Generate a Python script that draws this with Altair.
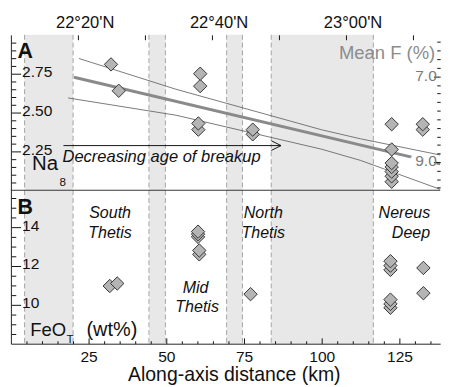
import altair as alt
import pandas as pd

FONT = "Liberation Sans"
W = 442
HA = 160
HB = 158
H = HA + HB

KM_DOMAIN = [0, 138.1]
NA_DOMAIN = [2.0, 3.0]
FE_DOMAIN = [8.0, 15.9]
F_DOMAIN = [6.033, 9.657]
LAT_DOMAIN = [1330, 1394.1]  # minutes of latitude, 22°10'N .. 23°14'N

# grey bands (along-axis km)
band_start = [4.4, 44.4, 69.4, 83.75]
band_end = [20.0, 49.7, 74.5, 116.6]

# Panel A: Na8
na_km = [32.2, 34.7, 60.9, 60.9, 60.3, 60.3, 77.8, 77.8,
         122.5, 122.5, 122.5, 122.5, 122.5, 122.5, 122.5, 132.5, 132.5]
na_val = [2.81, 2.64, 2.67, 2.75, 2.39, 2.43, 2.36, 2.39,
          2.055, 2.09, 2.12, 2.15, 2.175, 2.2625, 2.425, 2.39, 2.425]

# regression and confidence curves
reg_km = [20.3, 138.1]
reg_na = [2.727, 2.17]
upper_km = [21.9, 53.1, 100.0, 112.5, 138.1]
upper_na = [2.848, 2.65, 2.389, 2.331, 2.227]
lower_km = [18.4, 53.1, 100.0, 112.5, 138.1]
lower_na = [2.594, 2.483, 2.264, 2.192, 2.006]

# Panel B: FeOT
fe_km = [31.8, 34.2, 60.6, 60.6, 60.2, 60.2, 60.2, 77.1,
         122.1, 122.1, 122.1, 122.1, 122.1, 122.1, 132.7, 132.7]
fe_val = [10.97, 11.1, 12.6, 12.8, 13.5, 13.64, 13.77, 10.55,
          9.85, 10.05, 10.27, 11.8, 12.02, 12.25, 10.6, 11.9]

# ticks
na_major = [2.25, 2.5, 2.75]
na_minor = [2.05, 2.1, 2.15, 2.2, 2.3, 2.35, 2.4, 2.45, 2.55, 2.6, 2.65, 2.7, 2.8, 2.85, 2.9, 2.95]
fe_major = [10, 12, 14]
fe_minor = [8.5, 9, 9.5, 10.5, 11, 11.5, 12.5, 13, 13.5, 14.5, 15, 15.5]
km_major = [25, 50, 75, 100, 125]
km_minor = [5, 10, 15, 20, 30, 35, 40, 45, 55, 60, 65, 70, 80, 85, 90, 95,
            105, 110, 115, 120, 130, 135]
f_major = [7.0, 9.0]
f_minor = [6.2, 6.4, 6.6, 6.8, 7.2, 7.4, 7.6, 7.8, 8.0, 8.2, 8.4, 8.6, 8.8, 9.2, 9.4, 9.6]
lat_ticks = [1340, 1350, 1360, 1370, 1380, 1390]

# annotations
region_text = ["South", "Thetis", "Mid", "Thetis", "North", "Thetis", "Nereus", "Deep"]
region_km = [31.9, 31.9, 59.4, 59.9, 81.2, 81.2, 126.6, 128.7]
region_fe = [14.465, 13.435, 10.635, 9.635, 14.465, 13.435, 14.465, 13.435]

LAT_EXPR = """datum.value % 20 == 0 ? floor(datum.value / 60) + '°' + (datum.value % 60 < 10 ? '0' : '') + (datum.value % 60) + "'N" : ''"""


def X(field, axis=None):
    return alt.X(f"{field}:Q", scale=alt.Scale(domain=KM_DOMAIN, nice=False, zero=False), axis=axis)


def YA(field, axis=None):
    return alt.Y(f"{field}:Q", scale=alt.Scale(domain=NA_DOMAIN, range=[HA, 0], nice=False, zero=False),
                 axis=axis)


def YB(field, axis=None):
    return alt.Y(f"{field}:Q", scale=alt.Scale(domain=FE_DOMAIN, range=[H, HA], nice=False, zero=False),
                 axis=axis)


def text_at(t, km, y, yfun, **mark):
    mark.setdefault("color", "#111111")
    df = pd.DataFrame({"t": [t], "km": [km], "y": [y]})
    return alt.Chart(df).mark_text(font=FONT, **mark).encode(
        x=X("km"), y=yfun("y"), text="t:N")


bands_df = pd.DataFrame({"start": band_start, "end": band_end})
edges_df = pd.DataFrame({"edge": band_start + band_end})

band_rect = alt.Chart(bands_df).mark_rect(color="#e8e8e8").encode(x=X("start"), x2="end:Q")
band_edge = alt.Chart(edges_df).mark_rule(color="#a3a3a3", strokeDash=[5, 3], strokeWidth=1).encode(
    x=X("edge"))


def axis_y(values, yfun, axis):
    return alt.Chart(pd.DataFrame({"v": values})).mark_point(opacity=0).encode(y=yfun("v", axis))


def axis_x(values, axis):
    return alt.Chart(pd.DataFrame({"v": values})).mark_point(opacity=0).encode(x=X("v", axis))


common_lab = dict(labelFont=FONT, labelFontSize=16, labelColor="#111111", tickColor="#111111",
                  labelOverlap=False, grid=False, zindex=2)


def left_major(values, fmt):
    return alt.Axis(orient="left", values=values, offset=-10, tickSize=10, domain=False,
                    labelAlign="left", labelBaseline="middle", labelPadding=-11, labelOffset=-2,
                    format=fmt, title=None, **common_lab)


def left_minor(values):
    return alt.Axis(orient="left", values=values, offset=-5, tickSize=5, domain=False, labels=False,
                    title=None, tickColor="#111111", grid=False, zindex=2)


def left_domain():
    return alt.Axis(orient="left", values=[], domain=True, ticks=False, labels=False, title=None,
                    domainColor="#222222", domainWidth=1, grid=False, zindex=3)


# ---------------- Panel A ----------------
na_df = pd.DataFrame({"km": na_km, "na": na_val})
up_df = pd.DataFrame({"km": upper_km, "na": upper_na})
lo_df = pd.DataFrame({"km": lower_km, "na": lower_na})
reg_df = pd.DataFrame({"km": reg_km, "na": reg_na})
arrow_df = pd.DataFrame({"km": [16.9], "km2": [86.9], "na": [2.2875]})
divider_df = pd.DataFrame({"na": [NA_DOMAIN[0]]})

up_line = alt.Chart(up_df).mark_line(color="#555555", strokeWidth=0.8).encode(x=X("km"), y=YA("na"))
lo_line = alt.Chart(lo_df).mark_line(color="#555555", strokeWidth=0.8).encode(x=X("km"), y=YA("na"))
reg_line = alt.Chart(reg_df).mark_line(color="#8a8a8a", strokeWidth=3).encode(x=X("km"), y=YA("na"))
arrow = alt.Chart(arrow_df).mark_rule(color="#111111", strokeWidth=1).encode(x=X("km"), x2="km2:Q", y=YA("na"))
arrow_head = alt.Chart(arrow_df).mark_point(shape="M-2,-1L0,0L-2,1", size=100, filled=False,
                                            stroke="#111111", strokeWidth=1, opacity=1).encode(
    x=X("km2"), y=YA("na"))
na_pts = alt.Chart(na_df).mark_point(shape="diamond", filled=True, fill="#b4b4b4", stroke="#333333",
                                     strokeWidth=1, size=190, opacity=1).encode(x=X("km"), y=YA("na"))
halo = text_at("9.0", 136.1, 2.181, YA, align="right", baseline="middle", fontSize=16,
               color="white", stroke="white", strokeWidth=6)
divider = alt.Chart(divider_df).mark_rule(color="#333333", strokeWidth=1).encode(y=YA("na"))

lat_layer = alt.Chart(pd.DataFrame({"lat": lat_ticks})).mark_point(opacity=0).encode(
    x=alt.X("lat:Q", scale=alt.Scale(domain=LAT_DOMAIN, nice=False, zero=False),
            axis=alt.Axis(orient="top", values=lat_ticks, offset=-5, tickSize=5, domain=False,
                          labelExpr=LAT_EXPR, labelPadding=4, labelOffset=7, labelFlush=False,
                          labelFontSize=17, labelFont=FONT, labelColor="#111111", tickColor="#111111",
                          labelOverlap=False, grid=False, title=None, zindex=2)))


def f_scale():
    return alt.Scale(domain=F_DOMAIN, range=[0, HA], nice=False, zero=False)


f_major_layer = alt.Chart(pd.DataFrame({"f": f_major})).mark_point(opacity=0).encode(
    y=alt.Y("f:Q", scale=f_scale(),
            axis=alt.Axis(orient="right", values=f_major, offset=-7, tickSize=7, domain=False,
                          labelAlign="right", labelBaseline="middle", labelPadding=-4, labelOffset=-1,
                          format=".1f", labelFont=FONT, labelFontSize=16, labelColor="#7a7a7a",
                          tickColor="#111111", labelOverlap=False, grid=False, title=None, zindex=2)))
f_minor_layer = alt.Chart(pd.DataFrame({"f": f_minor})).mark_point(opacity=0).encode(
    y=alt.Y("f:Q", scale=f_scale(),
            axis=alt.Axis(orient="right", values=f_minor, offset=-3.5, tickSize=3.5, domain=False,
                          labels=False, tickColor="#111111", grid=False, title=None, zindex=2)))

# ---------------- Panel B ----------------
fe_df = pd.DataFrame({"km": fe_km, "fe": fe_val})
fe_pts = alt.Chart(fe_df).mark_point(shape="diamond", filled=True, fill="#b4b4b4", stroke="#333333",
                                     strokeWidth=1, size=190, opacity=1).encode(x=X("km"), y=YB("fe"))
reg_df_b = pd.DataFrame({"t": region_text, "km": region_km, "y": region_fe})
regions = alt.Chart(reg_df_b).mark_text(font=FONT, fontSize=16.5, fontStyle="italic", color="#111111",
                                        align="center", baseline="alphabetic").encode(
    x=X("km"), y=YB("y"), text="t:N")

bottom_major = alt.Axis(orient="bottom", values=km_major, offset=-6, tickSize=6, domain=False,
                        labelPadding=5, labelFlush=False, title="Along-axis distance (km)",
                        titleFont=FONT, titleFontSize=20, titleFontWeight="normal", titleColor="#111111",
                        titlePadding=1, titleX=229.5, **common_lab)
bottom_minor = alt.Axis(orient="bottom", values=km_minor, offset=-3, tickSize=3, domain=False,
                        labels=False, title=None, tickColor="#111111", grid=False, zindex=2)
bottom_domain = alt.Axis(orient="bottom", values=[], domain=True, ticks=False, labels=False, title=None,
                         domainColor="#222222", domainWidth=1, grid=False, zindex=3)

chart = alt.layer(
    band_rect, band_edge,
    up_line, lo_line, reg_line, arrow, arrow_head, na_pts, halo, divider,
    text_at("Decreasing age of breakup", 16.6, 2.181, YA, align="left", baseline="alphabetic",
            fontSize=17, fontStyle="italic"),
    text_at("A", 2.1, 2.85, YA, align="left", baseline="alphabetic", fontSize=22, fontWeight="bold"),
    text_at("Na", 6.8, 2.129, YA, align="left", baseline="alphabetic", fontSize=21),
    text_at("8", 15.6, 2.025, YA, align="left", baseline="alphabetic", fontSize=12),
    text_at("Mean F (%)", 136.5, 2.842, YA, align="right", baseline="alphabetic", fontSize=19,
            color="#8c8c8c"),
    axis_y(na_major, YA, left_major(na_major, ".2f")),
    axis_y(na_minor, YA, left_minor(na_minor)),
    axis_y(na_major, YA, left_domain()),
    lat_layer, f_major_layer, f_minor_layer,
    fe_pts, regions,
    text_at("B", 2.1, 14.685, YB, align="left", baseline="alphabetic", fontSize=22, fontWeight="bold"),
    text_at("FeO", 6.25, 8.385, YB, align="left", baseline="alphabetic", fontSize=19),
    text_at("T", 17.9, 8.05, YB, align="left", baseline="alphabetic", fontSize=12),
    text_at("(wt%)", 24.3, 8.385, YB, align="left", baseline="alphabetic", fontSize=20.5),
    axis_y(fe_major, YB, left_major(fe_major, "d")),
    axis_y(fe_minor, YB, left_minor(fe_minor)),
    axis_y(fe_major, YB, left_domain()),
    axis_x(km_major, bottom_major),
    axis_x(km_minor, bottom_minor),
    axis_x(km_major, bottom_domain),
).resolve_scale(x="independent", y="independent").properties(
    width=W, height=H,
    padding={"left": 2, "top": 0, "right": 0, "bottom": 0}
).configure_view(stroke="transparent")

chart.save("out.html", embed_options={"renderer": "svg", "actions": False})
